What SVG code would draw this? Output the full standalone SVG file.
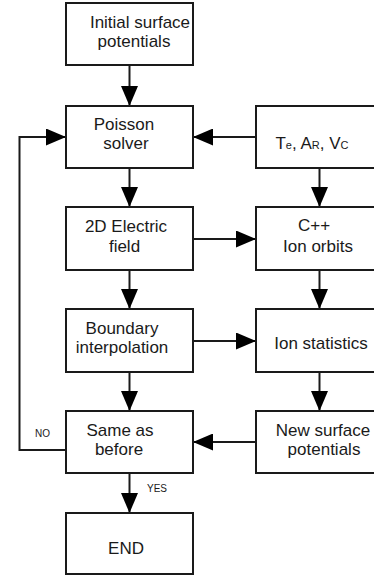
<svg xmlns="http://www.w3.org/2000/svg" width="374" height="575" viewBox="0 0 374 575">
<style>
.box{fill:#fff;stroke:#1a1a1a;stroke-width:2}
.t{font-family:"Liberation Sans",Arial,sans-serif;font-size:17px;fill:#1a1a1a;text-anchor:middle}
.s{font-size:11px}
.lbl{font-family:"Liberation Sans",Arial,sans-serif;font-size:10px;fill:#1a1a1a}
.c{fill:none;stroke:#1a1a1a;stroke-width:2}
</style>
<defs>
<marker id="ah" viewBox="0 0 20 17" refX="20" refY="8.5" markerWidth="20" markerHeight="17" markerUnits="userSpaceOnUse" orient="auto">
<path d="M0,0 L20,8.5 L0,17 Z" fill="#000"/>
</marker>
</defs>
<rect width="374" height="575" fill="#fff"/>
<g id="connectors">
<path class="c" d="M129.5,65 V106" marker-end="url(#ah)"/>
<path class="c" d="M129.5,168 V207" marker-end="url(#ah)"/>
<path class="c" d="M129.5,270 V309" marker-end="url(#ah)"/>
<path class="c" d="M129.5,372 V411" marker-end="url(#ah)"/>
<path class="c" d="M129.5,473 V513" marker-end="url(#ah)"/>
<path class="c" d="M319.5,168 V207" marker-end="url(#ah)"/>
<path class="c" d="M319.5,270 V309" marker-end="url(#ah)"/>
<path class="c" d="M319.5,372 V411" marker-end="url(#ah)"/>
<path class="c" d="M256,137 H193" marker-end="url(#ah)"/>
<path class="c" d="M193,239 H256" marker-end="url(#ah)"/>
<path class="c" d="M193,341 H256" marker-end="url(#ah)"/>
<path class="c" d="M256,442 H193" marker-end="url(#ah)"/>
<path class="c" d="M66,450 H19.5 V137 H66" marker-end="url(#ah)"/>
<text class="lbl" x="35" y="437">NO</text>
<text class="lbl" x="147" y="492">YES</text>
</g>
<g id="initial">
<rect class="box" x="66" y="3" width="127" height="62"/>
<text class="t" x="140" y="28">Initial surface</text>
<text class="t" x="134" y="47">potentials</text>
</g>
<g id="poisson">
<rect class="box" x="66" y="106" width="127" height="62"/>
<text class="t" x="124" y="130">Poisson</text>
<text class="t" x="126" y="149">solver</text>
</g>
<g id="params">
<rect class="box" x="256" y="106" width="127" height="62"/>
<text class="t" x="312" y="149">T<tspan class="s">e</tspan>, A<tspan class="s">R</tspan>, V<tspan class="s">C</tspan></text>
</g>
<g id="efield">
<rect class="box" x="66" y="207" width="127" height="63"/>
<text class="t" x="126" y="232">2D Electric</text>
<text class="t" x="124.5" y="252">field</text>
</g>
<g id="orbits">
<rect class="box" x="256" y="207" width="127" height="63"/>
<text class="t" x="314" y="231">C++</text>
<text class="t" x="318" y="252">Ion orbits</text>
</g>
<g id="boundary">
<rect class="box" x="66" y="309" width="127" height="63"/>
<text class="t" x="122" y="334">Boundary</text>
<text class="t" x="122" y="353">interpolation</text>
</g>
<g id="stats">
<rect class="box" x="256" y="309" width="127" height="63"/>
<text class="t" x="321" y="349">Ion statistics</text>
</g>
<g id="same">
<rect class="box" x="66" y="411" width="127" height="62"/>
<text class="t" x="120" y="436">Same as</text>
<text class="t" x="119" y="455">before</text>
</g>
<g id="newsurf">
<rect class="box" x="256" y="411" width="127" height="62"/>
<text class="t" x="323" y="436">New surface</text>
<text class="t" x="324" y="455">potentials</text>
</g>
<g id="end">
<rect class="box" x="66" y="513" width="127" height="61"/>
<text class="t" x="126" y="554">END</text>
</g>
</svg>
